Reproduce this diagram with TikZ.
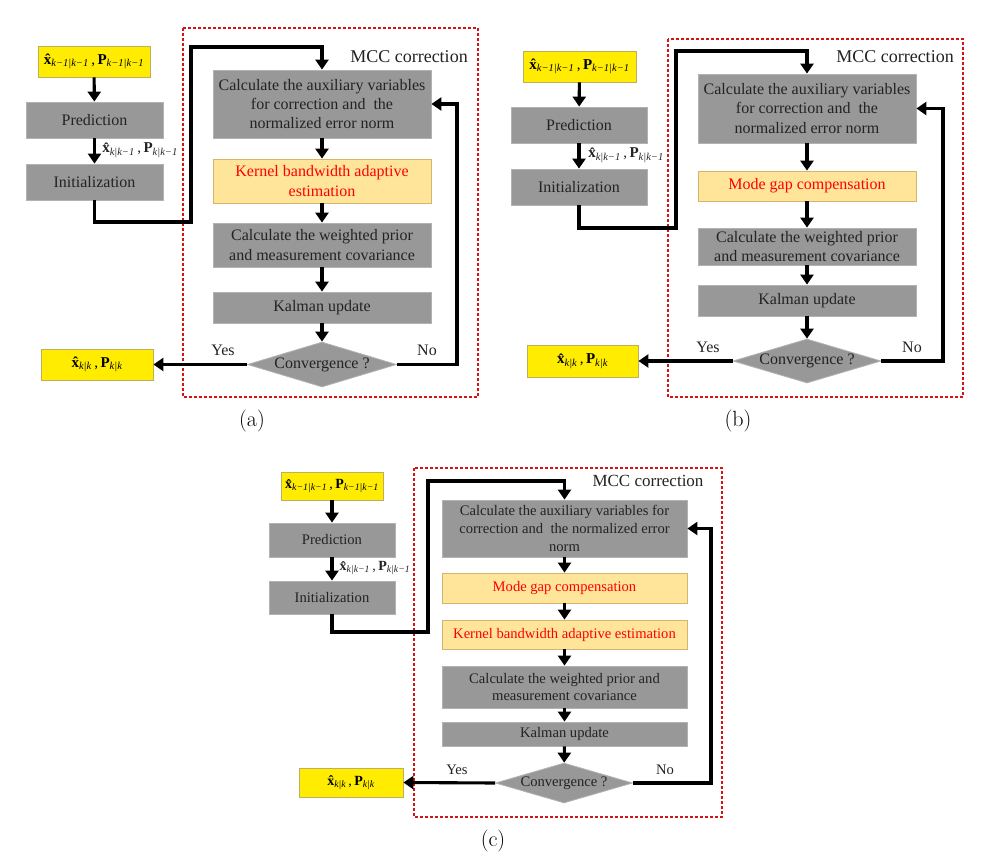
\documentclass[tikz,border=0pt]{standalone}
\usepackage{fontspec}
\newfontfamily\tnr{Liberation Serif}
\usetikzlibrary{arrows.meta,shapes.geometric}
\definecolor{boxgray}{RGB}{152,152,152}
\definecolor{boxedge}{RGB}{178,178,178}
\definecolor{ylw}{RGB}{255,236,0}
\definecolor{ylwedge}{RGB}{190,175,95}
\definecolor{lgold}{RGB}{255,229,153}
\definecolor{lgoldedge}{RGB}{215,180,110}
\definecolor{txtgray}{RGB}{35,35,35}
\definecolor{mccred}{RGB}{210,20,20}
\newcommand\fA{\tnr\fontsize{16}{19.3}\selectfont}
\newcommand\fC{\tnr\fontsize{14.6}{17.7}\selectfont}
\newcommand\fM{\tnr\fontsize{15}{17}\selectfont}
\newcommand\fMC{\tnr\fontsize{14}{16}\selectfont}
\newcommand\fCap{\fontsize{22}{26}\selectfont}
\newcommand\est[1]{{\bfseries\^x}\textsubscript{\itshape #1}\,,\,{\bfseries P}\textsubscript{\itshape #1}}
\tikzset{
  gbox/.style={draw=boxedge, line width=0.8pt, fill=boxgray, text=txtgray, align=center, inner sep=0pt},
  ybox/.style={draw=ylwedge, line width=0.8pt, fill=ylw, text=black, align=center, inner sep=0pt},
  obox/.style={draw=lgoldedge, line width=0.8pt, fill=lgold, text=red, align=center, inner sep=0pt},
  dbox/.style={diamond, draw=boxedge, line width=0.8pt, fill=boxgray, inner sep=0pt},
  arr/.style={line width=3.1pt, -{Triangle[length=10pt,width=13pt]}},
  mcc/.style={draw=mccred, line width=1.8pt, dash pattern=on 3pt off 2pt},
  lbl/.style={text=txtgray, inner sep=0pt},
}
\begin{document}
\begin{tikzpicture}[x=1pt,y=-1pt]
\fill[white] (0,0) rectangle (1002,864);
\useasboundingbox (0,0) rectangle (1002,864);

% ================= (a) =================
\draw[mcc] (183,28) rectangle (478,397);
\node[lbl, font=\tnr\fontsize{18}{20}\selectfont] (mcca) at (409,57) {MCC correction};
\node[ybox, minimum width=112pt, minimum height=31pt, font=\fM] (ya) at (94,61.5) {\est{k−1|k−1}};
\node[gbox, minimum width=137pt, minimum height=36pt, font=\fA] (pa) at (94.5,120) {Prediction};
\node[gbox, minimum width=137pt, minimum height=36pt, font=\fA] (ia) at (94.5,182) {Initialization};
\node[lbl, font=\fM] (la) at (140,150) {\est{k|k−1}};
\node[gbox, minimum width=218pt, minimum height=68pt, font=\fA] (a1) at (322,104) {Calculate the auxiliary variables\\for correction and \ the\\normalized error norm};
\node[obox, minimum width=218pt, minimum height=44pt, font=\fA] (a2) at (322,181) {Kernel bandwidth adaptive\\estimation};
\node[gbox, minimum width=218pt, minimum height=44pt, font=\fA] (a3) at (322,245) {Calculate the weighted prior\\and measurement covariance};
\node[gbox, minimum width=218pt, minimum height=31pt, font=\fA] (a4) at (322,307.5) {Kalman update};
\node[dbox, minimum width=149pt, minimum height=45pt] (ad) at (322,364.5) {};
\node[lbl, font=\fA] (adt) at (ad) {Convergence ?};
\node[ybox, minimum width=112pt, minimum height=31pt, font=\fM] (ao) at (97,364.5) {\est{k|k}};
\node[lbl, font=\fA] (yesa) at (223,350) {Yes};
\node[lbl, font=\fA] (noa) at (427,350) {No};
\draw[arr] (ya) -- (pa);
\draw[arr] (pa) -- (ia);
\draw[arr] (ia.south) |- (191,222) -- (191,47) -| (a1.north);
\draw[arr] (a1) -- (a2);
\draw[arr] (a2) -- (a3);
\draw[arr] (a3) -- (a4);
\draw[arr] (a4) -- (ad);
\draw[arr] (ad.west) -- (ao.east);
\draw[arr] (ad.east) -| (457,104) -- (a1.east);
\node[font=\fCap] (capa) at (252,421) {(a)};

% ================= (b) =================
\draw[mcc] (668,39) rectangle (963,397);
\node[lbl, font=\tnr\fontsize{18}{20}\selectfont] (mccb) at (895,57) {MCC correction};
\node[ybox, minimum width=113pt, minimum height=31pt, font=\fM] (yb) at (579.5,66.5) {\est{k−1|k−1}};
\node[gbox, minimum width=136pt, minimum height=36pt, font=\fA] (pb) at (579,125) {Prediction};
\node[gbox, minimum width=136pt, minimum height=36pt, font=\fA] (ib) at (579,187) {Initialization};
\node[lbl, font=\fM] (lb) at (626,155) {\est{k|k−1}};
\node[gbox, minimum width=218pt, minimum height=69pt, font=\fA] (b1) at (807,108.5) {Calculate the auxiliary variables\\for correction and \ the\\normalized error norm};
\node[obox, minimum width=218pt, minimum height=30pt, font=\fA] (b2) at (807,186) {Mode gap compensation};
\node[gbox, minimum width=218pt, minimum height=37pt, font=\fA] (b3) at (807,246.5) {Calculate the weighted prior\\and measurement covariance};
\node[gbox, minimum width=218pt, minimum height=31pt, font=\fA] (b4) at (807,300.5) {Kalman update};
\node[dbox, minimum width=148pt, minimum height=44pt] (bd) at (807,361) {};
\node[lbl, font=\fA] (bdt) at (bd) {Convergence ?};
\node[ybox, minimum width=111pt, minimum height=32pt, font=\fM] (bo) at (582.5,361) {\est{k|k}};
\node[lbl, font=\fA] (yesb) at (708,347) {Yes};
\node[lbl, font=\fA] (nob) at (912,347) {No};
\draw[arr] (yb) -- (pb);
\draw[arr] (pb) -- (ib);
\draw[arr] (ib.south) |- (676,228) -- (676,51) -| (b1.north);
\draw[arr] (b1) -- (b2);
\draw[arr] (b2) -- (b3);
\draw[arr] (b3) -- (b4);
\draw[arr] (b4) -- (bd);
\draw[arr] (bd.west) -- (bo.east);
\draw[arr] (bd.east) -| (943,108.5) -- (b1.east);
\node[font=\fCap] (capb) at (738,421) {(b)};

% ================= (c) =================
\draw[mcc] (414,468) rectangle (722,817);
\node[lbl, font=\tnr\fontsize{17}{19}\selectfont] (mccc) at (648,481) {MCC correction};
\node[ybox, minimum width=102pt, minimum height=28pt, font=\fMC] (yc) at (332,486) {\est{k−1|k−1}};
\node[gbox, minimum width=126pt, minimum height=34pt, font=\fC] (pc) at (332,540) {Prediction};
\node[gbox, minimum width=126pt, minimum height=33pt, font=\fC] (ic) at (332,597.5) {Initialization};
\node[lbl, font=\fMC] (lc) at (375,568) {\est{k|k−1}};
\node[gbox, minimum width=245pt, minimum height=57pt, font=\fC] (c1) at (564.5,528.5) {Calculate the auxiliary variables for\\correction and \ the normalized error\\norm};
\node[obox, minimum width=245pt, minimum height=30pt, font=\fC] (c2) at (564.5,588) {Mode gap compensation};
\node[obox, minimum width=245pt, minimum height=29pt, font=\fC] (c3) at (564.5,634.5) {Kernel bandwidth adaptive estimation};
\node[gbox, minimum width=245pt, minimum height=42pt, font=\fC] (c4) at (564.5,687) {Calculate the weighted prior and\\measurement covariance};
\node[gbox, minimum width=245pt, minimum height=24pt, font=\fC] (c5) at (564.5,734) {Kalman update};
\node[dbox, minimum width=137pt, minimum height=40pt] (cd) at (564,783) {};
\node[lbl, font=\fC] (cdt) at (cd) {Convergence ?};
\node[ybox, minimum width=104pt, minimum height=29pt, font=\fMC] (co) at (351,782.5) {\est{k|k}};
\node[lbl, font=\fC] (yesc) at (457,770) {Yes};
\node[lbl, font=\fC] (noc) at (665,770) {No};
\draw[arr] (yc) -- (pc);
\draw[arr] (pc) -- (ic);
\draw[arr] (ic.south) |- (428,632) -- (428,481) -| (c1.north);
\draw[arr] (c1) -- (c2);
\draw[arr] (c2) -- (c3);
\draw[arr] (c3) -- (c4);
\draw[arr] (c4) -- (c5);
\draw[arr] (c5) -- (cd);
\draw[arr] (cd.west) -- (co.east);
\draw[arr] (cd.east) -| (711,528.5) -- (c1.east);
\node[font=\fCap] (capc) at (493,841) {(c)};
\end{tikzpicture}
\end{document}
